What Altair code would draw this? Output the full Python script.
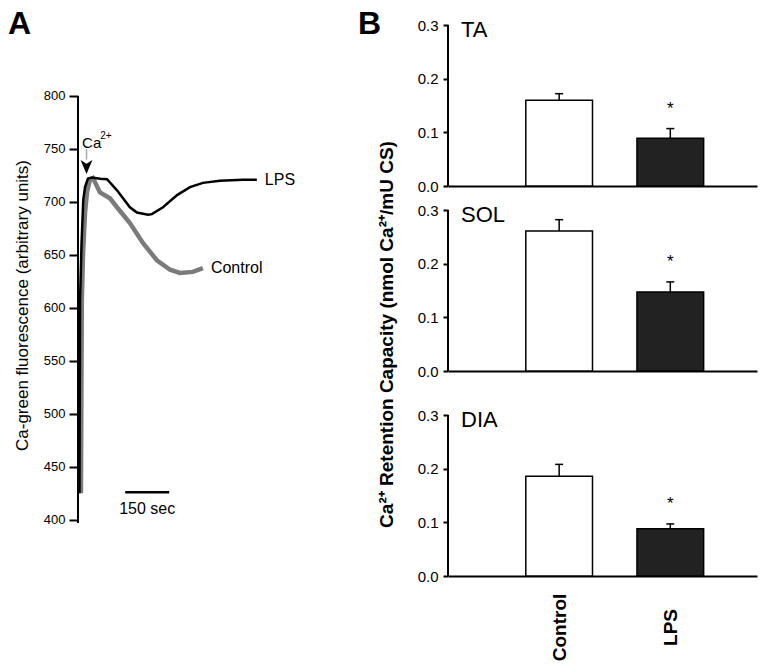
import altair as alt
import pandas as pd

FONT = "Liberation Sans"

# ---------------- Panel A : Ca-green fluorescence traces ----------------
lps_time = [5, 7, 12, 18, 24, 34, 48, 75, 99, 133, 177, 201, 239, 252, 290, 338, 382, 426, 484, 563, 610]
lps_fluor = [425, 607, 660, 702, 714, 722, 723, 722, 721.5, 711, 695, 690, 688, 688.5, 695, 706.5, 714, 718, 720, 721, 721]
ctl_time = [10, 13, 17, 24, 31, 41, 51, 75, 109, 133, 177, 222, 269, 314, 348, 392, 426]
ctl_fluor = [425, 607, 650, 690, 710, 721, 722.5, 709, 703.5, 695, 680, 661, 645, 636, 633, 634, 637.5]
a_ticks = [400, 450, 500, 550, 600, 650, 700, 750, 800]
ca_time = 29            # Ca2+ addition marker (sec)
ca_text_level = 751
bar_start = 161         # scale bar start (sec)
bar_seconds = 150
bar_level = 426

# ---------------- Panel B : Ca2+ retention capacity ----------------
groups = ["Control", "LPS"]
ta_mean = [0.160, 0.089]
ta_sem = [0.012, 0.018]
sol_mean = [0.261, 0.147]
sol_sem = [0.021, 0.019]
dia_mean = [0.186, 0.088]
dia_sem = [0.022, 0.009]
b_ticks = [0.0, 0.1, 0.2, 0.3]
bar_fill = ["#ffffff", "#222222"]

one = pd.DataFrame({"k": [0]})

# ---------------- build panel A ----------------
A_W, A_H = 185, 498
xA = alt.Scale(domain=[0, 631], nice=False)
yA = alt.Scale(domain=[397, 867], nice=False)
axisA = alt.Axis(values=a_ticks, domain=False, grid=False, tickSize=9, tickWidth=2,
                 labelFontSize=13, labelPadding=4,
                 title="Ca-green fluorescence (arbitrary units)", titleFontSize=17,
                 titleFontWeight="normal", titleX=-56, titleY=280, titleAngle=270,
                 titleAlign="center", titleBaseline="middle")


def Y(field):
    return alt.Y(field, scale=yA, axis=axisA)


def X(field):
    return alt.X(field, scale=xA, axis=None)


lps_df = pd.DataFrame({"t": lps_time, "f": lps_fluor})
ctl_df = pd.DataFrame({"t": ctl_time, "f": ctl_fluor})

axis_line = alt.Chart(pd.DataFrame({"f": [397], "f2": [a_ticks[-1]]})).mark_rule(
    color="black", strokeWidth=2).encode(x=alt.value(0), y=Y("f:Q"), y2="f2:Q")

ctl_line = alt.Chart(ctl_df).mark_line(color="#7b7b7b", strokeWidth=4.5).encode(
    x=X("t:Q"), y=Y("f:Q"), order="t:Q")
lps_line = alt.Chart(lps_df).mark_line(color="black", strokeWidth=2.5).encode(
    x=X("t:Q"), y=Y("f:Q"), order="t:Q")

ends = pd.DataFrame({"t": [lps_time[-1], ctl_time[-1]], "f": [lps_fluor[-1], ctl_fluor[-1]],
                     "label": ["LPS", "Control"]})
end_labels = alt.Chart(ends).mark_text(align="left", baseline="middle", dx=8, fontSize=16,
                                       color="black").encode(x=X("t:Q"), y=Y("f:Q"), text="label:N")

ca_df = pd.DataFrame({"t": [ca_time], "f": [750], "f2": [740], "tip": [733]})
ca_stem = alt.Chart(ca_df).mark_rule(color="#aaaaaa", strokeWidth=1.5).encode(
    x=X("t:Q"), y=Y("f:Q"), y2="f2:Q")
ca_head = alt.Chart(ca_df).mark_point(shape="M-0.85,-1L0,1L0.85,-1L0,-0.45Z", filled=True,
                                      color="black", opacity=1, size=196).encode(
    x=X("t:Q"), y=Y("tip:Q"))
ca_txt = alt.Chart(pd.DataFrame({"t": [ca_time - 15], "f": [ca_text_level]})).mark_text(
    align="left", baseline="alphabetic", fontSize=15, text="Ca", color="black").encode(
    x=X("t:Q"), y=Y("f:Q"))
ca_sup = alt.Chart(pd.DataFrame({"t": [ca_time + 47], "f": [ca_text_level + 8]})).mark_text(
    align="left", baseline="alphabetic", fontSize=10, text="2+", color="black").encode(
    x=X("t:Q"), y=Y("f:Q"))

sb_df = pd.DataFrame({"t": [bar_start], "t2": [bar_start + bar_seconds], "f": [bar_level],
                      "tm": [bar_start + bar_seconds / 2], "fl": [bar_level - 16]})
scale_bar = alt.Chart(sb_df).mark_rule(color="black", strokeWidth=2.5).encode(
    x=X("t:Q"), x2="t2:Q", y=Y("f:Q"))
scale_txt = alt.Chart(sb_df).mark_text(align="center", baseline="middle", fontSize=16,
                                       text=f"{bar_seconds} sec", color="black").encode(
    x=X("tm:Q"), y=Y("fl:Q"))

label_A = alt.Chart(one).mark_text(text="A", fontSize=32, fontWeight="bold", align="left",
                                   baseline="alphabetic", color="black").encode(
    x=alt.value(-70), y=alt.value(9))

panelA = alt.layer(axis_line, ctl_line, lps_line, end_labels, ca_stem, ca_head, ca_txt, ca_sup,
                   scale_bar, scale_txt, label_A).properties(width=A_W, height=A_H)

# ---------------- build panel B ----------------
B_W, B_H = 309, 161
PX_PER_UNIT = B_H / 0.3
xB = alt.Scale(domain=[0, 2.78], nice=False)


def bar_panel(name, means, sems, bottom=False, y_title=False, panel_label=None, extra_top=0):
    top = 0.3 + extra_top / PX_PER_UNIT
    yB = alt.Scale(domain=[0, top], nice=False)
    df = pd.DataFrame({"group": groups, "pos": list(range(1, len(groups) + 1)),
                       "mean": means, "hi": [m + s for m, s in zip(means, sems)],
                       "fill": bar_fill})
    if bottom:
        expr = f"datum.value == 1 ? '{groups[0]}' : '{groups[1]}'"
        xaxis = alt.Axis(values=[1, 2], labelExpr=expr, labelAngle=270, labelAlign="center",
                         labelBaseline="middle", ticks=False, labelPadding=51,
                         labelFontWeight="bold", labelFontSize=19, domainWidth=2,
                         grid=False, title=None)
    else:
        xaxis = alt.Axis(labels=False, ticks=False, domainWidth=2, grid=False, title=None)
    yargs = dict(values=b_ticks, format=".1f", tickSize=5, tickWidth=2, domain=False,
                 labelFontSize=15, labelPadding=5, grid=False)
    if y_title:
        yargs.update(title="Ca²⁺ Retention Capacity (nmol Ca²⁺/mU CS)", titleFontSize=19,
                     titleFontWeight="bold", titleX=-62, titleY=124, titleAngle=270,
                     titleAlign="center", titleBaseline="middle")
    else:
        yargs.update(title=None)
    yaxis = alt.Axis(**yargs)

    def YB(field):
        return alt.Y(field, scale=yB, axis=yaxis)

    def XB(field):
        return alt.X(field, scale=xB, axis=xaxis)

    base = alt.Chart(df).transform_calculate(x0="datum.pos - 0.3", x1="datum.pos + 0.3",
                                             zero="0")
    yline = alt.Chart(pd.DataFrame({"lo": [0.0], "hi": [b_ticks[-1]]})).mark_rule(
        color="black", strokeWidth=2).encode(x=alt.value(0), y=YB("lo:Q"), y2="hi:Q")
    err = base.mark_rule(color="black", strokeWidth=1.5).encode(
        x=XB("pos:Q"), y=YB("mean:Q"), y2="hi:Q")
    cap = base.mark_rule(color="black", strokeWidth=1.5, xOffset=-4, x2Offset=4).encode(
        x=XB("pos:Q"), x2="pos:Q", y=YB("hi:Q"))
    bars = base.mark_rect(stroke="black", strokeWidth=1.5).encode(
        x=XB("x0:Q"), x2="x1:Q", y=YB("zero:Q"), y2="mean:Q",
        fill=alt.Fill("fill:N", scale=None))
    star = base.transform_filter(f"datum.group == '{groups[1]}'").mark_text(
        text="*", fontSize=17, dy=-20, baseline="middle", color="black").encode(
        x=XB("pos:Q"), y=YB("hi:Q"))
    name_txt = alt.Chart(one).mark_text(text=name, fontSize=22, align="left",
                                        baseline="alphabetic", color="black").encode(
        x=alt.value(13), y=alt.value(12 + extra_top))
    layers = [yline, err, cap, bars, star, name_txt]
    if panel_label:
        layers.append(alt.Chart(one).mark_text(text=panel_label, fontSize=32, fontWeight="bold",
                                               align="left", baseline="alphabetic",
                                               color="black").encode(
            x=alt.value(-90), y=alt.value(9)))
    return alt.layer(*layers).properties(width=B_W, height=B_H + extra_top)


ta = bar_panel("TA", ta_mean, ta_sem, panel_label="B")
sol = bar_panel("SOL", sol_mean, sol_sem, y_title=True)
dia = bar_panel("DIA", dia_mean, dia_sem, bottom=True, extra_top=20)

panelB = alt.vconcat(ta, sol, dia, spacing=24, bounds="flush")

chart = alt.hconcat(panelA, panelB, spacing=185, bounds="flush").properties(
    padding={"left": 0, "top": 0, "right": 5, "bottom": 0},
    background="white",
).configure_view(stroke=None).configure_axis(
    labelFont=FONT, titleFont=FONT, domainColor="black", tickColor="black",
    labelColor="black", titleColor="black").configure_text(font=FONT)

chart.save("out.html", embed_options={"renderer": "svg", "actions": False})
